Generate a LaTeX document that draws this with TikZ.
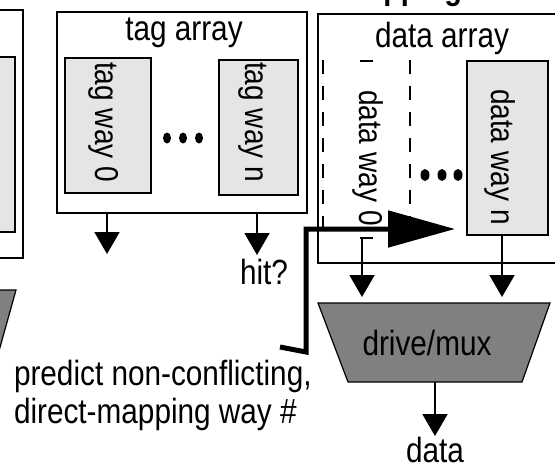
\documentclass[tikz,border=0pt]{standalone}
\usepackage{fontspec}
\setmainfont{Liberation Sans}
\newfontfamily\narrowsans[FakeStretch=0.85]{Liberation Sans}
\usetikzlibrary{arrows.meta,decorations}

\definecolor{wayfill}{gray}{0.90}
\definecolor{muxfill}{gray}{0.50}

\tikzset{
  arraybox/.style={draw, line width=2pt, inner sep=0pt, outer sep=0pt},
  waybox/.style={draw, line width=2pt, fill=wayfill, inner sep=0pt, outer sep=0pt},
  lbl/.style={font=\narrowsans\fontsize{35}{40}\selectfont, inner sep=0pt, outer sep=0pt},
  waylbl/.style={font=\narrowsans\fontsize{33}{38}\selectfont, inner sep=0pt, outer sep=0pt, rotate=-90, anchor=base west},
  flow/.style={line width=2pt, -{Triangle[length=22pt,width=25pt]}},
  predict/.style={line width=5pt, line join=miter, -{Triangle[length=67pt,width=36pt]}},
  dashedge/.style={line width=2pt, line cap=rect, dash pattern=on 11pt off 22pt, dash expand off},
  muxshape/.style={draw, line width=1.2pt, fill=muxfill, line join=miter},
}

\begin{document}
\begin{tikzpicture}[x=1pt, y=-1pt]
  \useasboundingbox (0,0) rectangle (555,464);
  \clip (0,0) rectangle (555,464);

  % heading above the panel, only its descenders reach into view
  \node[font=\narrowsans\fontsize{34}{38}\selectfont\bfseries, inner sep=0pt, outer sep=0pt, anchor=base east] (heading) at (462,-1) {selective direct-mapping};

  % remains of the left-hand panel
  \node[arraybox, minimum width=80pt, minimum height=248pt] (leftarr) at (-17,134) {};
  \node[waybox, minimum width=70pt, minimum height=175pt] (leftway) at (-20,144.5) {};
  \draw[muxshape] (-80,290) -- (16,290) -- (-8,376) -- (-80,376) -- cycle;

  % tag array
  \node[arraybox, minimum width=250pt, minimum height=201pt] (tagarr) at (182,112.5) {};
  \node[lbl, anchor=base] (taglbl) at (184,40) {tag array};
  \node[waybox, minimum width=86pt, minimum height=135pt] (tw0) at (108,125.5) {};
  \node[waybox, minimum width=79pt, minimum height=135pt] (twn) at (258.5,127.5) {};
  \node[waylbl] (tw0lbl) at (95,62) {tag way 0};
  \node[waylbl] (twnlbl) at (245,62) {tag way n};
  \foreach \x in {167,183,199} \fill (\x,138) ellipse [x radius=4pt, y radius=5.5pt];

  % tag array outputs
  \coordinate (tagout0) at (107,254);
  \coordinate (tagoutn) at (257,255);
  \draw[flow] (tagarr.south -| tagout0) -- (tagout0);
  \draw[flow] (tagarr.south -| tagoutn) -- (tagoutn);
  \node[lbl, anchor=base west] (hit) at (240,284) {hit?};

  % data array
  \node[arraybox, minimum width=240pt, minimum height=249pt] (datarr) at (438,138.5) {};
  \node[lbl, anchor=base] (datalbl) at (442,47) {data array};

  % predicted way (dashed)
  \coordinate (dw0nw) at (323,61);
  \coordinate (dw0ne) at (410,61);
  \coordinate (dw0sw) at (323,238);
  \coordinate (dw0se) at (410,238);
  \draw[dashedge] (dw0nw) -- (dw0ne);
  \draw[dashedge] (dw0sw) -- (dw0se);
  \draw[dashedge, dash pattern=on 12pt off 14pt] (dw0nw) -- (dw0sw);
  \draw[dashedge, dash pattern=on 12pt off 14pt] (dw0ne) -- (dw0se);
  \node[waylbl] (dw0lbl) at (359,90) {data way 0};

  \node[waybox, minimum width=81pt, minimum height=174pt] (dwn) at (507.5,148) {};
  \node[waylbl] (dwnlbl) at (491,89) {data way n};
  \foreach \x in {425,442,458} \fill (\x,175) ellipse [x radius=4.5pt, y radius=6pt];

  % way-prediction input
  \coordinate (pfoot) at (280,347);
  \coordinate (pcorner) at (306,352);
  \coordinate (pbend) at (306,229);
  \coordinate (ptip) at (455,229);
  \draw[predict] (pfoot) -- (pcorner) -- (pbend) -- (ptip);
  \node[lbl, anchor=base west] (predlbl) at (14,385) {predict non-conflicting,};
  \node[lbl, anchor=base west] (predlbl2) at (14,423) {direct-mapping way \#};

  % data array outputs
  \coordinate (dataout0) at (362,297);
  \coordinate (dataoutn) at (502,297);
  \draw[flow] (dw0sw -| dataout0) -- (dataout0);
  \draw[flow] (dwn.south -| dataoutn) -- (dataoutn);

  % drive / mux
  \draw[muxshape] (318,303) -- (550,303) -- (522,382) -- (348,382) -- cycle;
  \node[lbl, anchor=base] (mux) at (427,355) {drive/mux};
  \coordinate (muxbot) at (435,382);
  \coordinate (dataend) at (435,436);
  \draw[flow] (muxbot) -- (dataend);
  \node[lbl, anchor=base] (datatxt) at (435,462) {data};
\end{tikzpicture}
\end{document}
